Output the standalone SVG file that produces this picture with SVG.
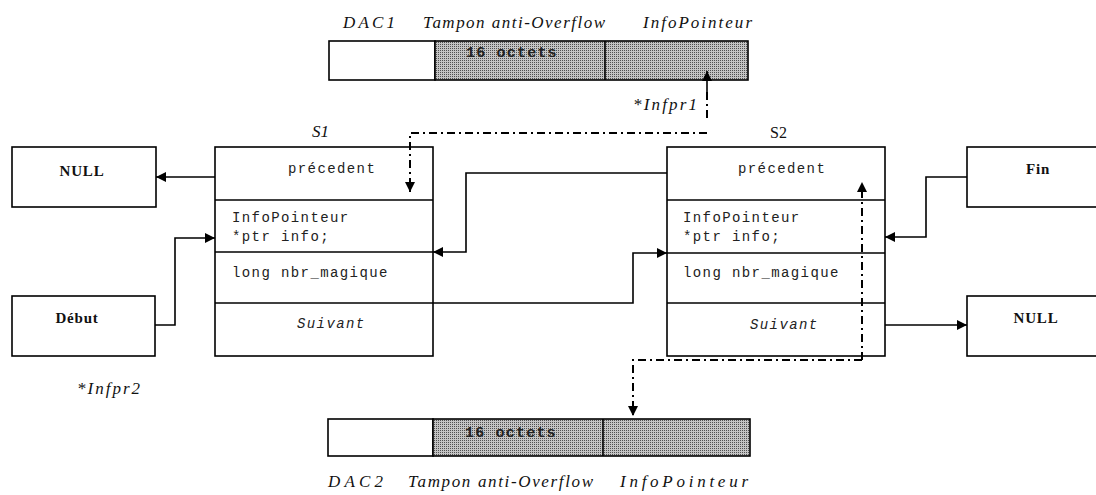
<svg xmlns="http://www.w3.org/2000/svg" width="1096" height="495" viewBox="0 0 1096 495">
<defs>
<pattern id="dither" width="2" height="2" patternUnits="userSpaceOnUse">
<rect width="2" height="2" fill="#c4c4c4"/>
<rect width="1" height="1" fill="#505050"/>
</pattern>
<marker id="ah" viewBox="0 0 10 10" refX="10" refY="5" markerWidth="11" markerHeight="10" markerUnits="userSpaceOnUse" orient="auto">
<path d="M0,0 L10,5 L0,10 z" fill="#000"/>
</marker>
</defs>
<style>
.box{fill:#fff;stroke:#000;stroke-width:1.6}
.sep{stroke:#000;stroke-width:1.6}
.mono{font-family:"Liberation Mono",monospace;font-size:14px;letter-spacing:1.4px;fill:#222}
.ital{font-family:"Liberation Serif",serif;font-style:italic;font-size:17px;fill:#111}
.bold{font-family:"Liberation Serif",serif;font-weight:bold;font-size:15px;letter-spacing:0.8px;fill:#111}
.oct{font-family:"Liberation Mono",monospace;font-weight:bold;font-size:15px;letter-spacing:1.2px;fill:#222}
.conn{fill:none;stroke:#000;stroke-width:1.6}
.dd{fill:none;stroke:#000;stroke-width:2;stroke-dasharray:8 4 2 4}
</style>

<g id="buffer1">
<rect x="329" y="41" width="106" height="39" class="box"/>
<rect x="435" y="41" width="313" height="39" fill="url(#dither)" stroke="#000" stroke-width="1.6"/>
<line x1="605" y1="41" x2="605" y2="80" class="sep"/>
<text x="466" y="57" class="oct">16 octets</text>
<text x="343" y="28" class="ital" textLength="52" lengthAdjust="spacing">DAC1</text>
<text x="423" y="28" class="ital" textLength="182" lengthAdjust="spacing">Tampon anti-Overflow</text>
<text x="643" y="28" class="ital" textLength="109" lengthAdjust="spacing">InfoPointeur</text>
</g>

<g id="buffer2">
<rect x="328" y="419" width="105" height="37" class="box"/>
<rect x="433" y="419" width="317" height="37" fill="url(#dither)" stroke="#000" stroke-width="1.6"/>
<line x1="603" y1="419" x2="603" y2="456" class="sep"/>
<text x="465" y="437" class="oct">16 octets</text>
<text x="328" y="487" class="ital" textLength="55" lengthAdjust="spacing">DAC2</text>
<text x="408" y="487" class="ital" textLength="185" lengthAdjust="spacing">Tampon anti-Overflow</text>
<text x="620" y="487" class="ital" textLength="128" lengthAdjust="spacing">InfoPointeur</text>
</g>

<g id="S1">
<text x="312" y="137" class="ital" font-size="16">S1</text>
<rect x="215" y="147" width="218" height="209" class="box"/>
<line x1="215" y1="200" x2="433" y2="200" class="sep"/>
<line x1="215" y1="252" x2="433" y2="252" class="sep"/>
<line x1="215" y1="303" x2="433" y2="303" class="sep"/>
<text x="288" y="173" class="mono">précedent</text>
<text x="232" y="222" class="mono">InfoPointeur</text>
<text x="232" y="241" class="mono">*ptr info;</text>
<text x="232" y="277" class="mono">long nbr_magique</text>
<text x="297" y="328" class="mono" font-style="italic">Suivant</text>
</g>

<g id="S2">
<text x="770" y="138" font-family="Liberation Serif, serif" font-size="16" fill="#111">S2</text>
<rect x="667" y="147" width="218" height="209" class="box"/>
<line x1="667" y1="200" x2="885" y2="200" class="sep"/>
<line x1="667" y1="253" x2="885" y2="253" class="sep"/>
<line x1="667" y1="303" x2="885" y2="303" class="sep"/>
<text x="738" y="173" class="mono">précedent</text>
<text x="683" y="222" class="mono">InfoPointeur</text>
<text x="683" y="241" class="mono">*ptr info;</text>
<text x="683" y="277" class="mono">long nbr_magique</text>
<text x="750" y="329" class="mono" font-style="italic">Suivant</text>
</g>

<g id="null1">
<rect x="12" y="147" width="144" height="60" class="box"/>
<text x="82" y="176" class="bold" text-anchor="middle">NULL</text>
</g>

<g id="debut">
<rect x="12" y="296" width="143" height="60" class="box"/>
<text x="77" y="323" class="bold" text-anchor="middle">Début</text>
</g>

<g id="fin">
<rect x="967" y="147" width="140" height="60" class="box"/>
<text x="1038" y="174" class="bold" text-anchor="middle">Fin</text>
</g>

<g id="null2">
<rect x="967" y="296" width="140" height="60" class="box"/>
<text x="1036" y="323" class="bold" text-anchor="middle">NULL</text>
</g>

<g id="labels">
<text x="633" y="110" class="ital" font-size="14" textLength="64" lengthAdjust="spacing">*Infpr1</text>
<text x="77" y="394" class="ital" font-size="14" textLength="63" lengthAdjust="spacing">*Infpr2</text>
</g>

<g id="connectors">
<path d="M215,177 H156" class="conn" marker-end="url(#ah)"/>
<path d="M155,325 H175 V238 H215" class="conn" marker-end="url(#ah)"/>
<path d="M667,173 H466 V252 H433" class="conn" marker-end="url(#ah)"/>
<path d="M433,303 H633 V253 H667" class="conn" marker-end="url(#ah)"/>
<path d="M967,177 H926 V237 H885" class="conn" marker-end="url(#ah)"/>
<path d="M885,325 H967" class="conn" marker-end="url(#ah)"/>
<path d="M707,92 V71" class="conn" stroke-width="2" marker-end="url(#ah)"/>
<path d="M707,118 V92" class="dd"/>
<path d="M707,133 H410 V192" class="dd" marker-end="url(#ah)"/>
<path d="M862,360 V182" class="dd" marker-end="url(#ah)"/>
<path d="M862,360 H633 V416" class="dd" marker-end="url(#ah)"/>
</g>
</svg>
